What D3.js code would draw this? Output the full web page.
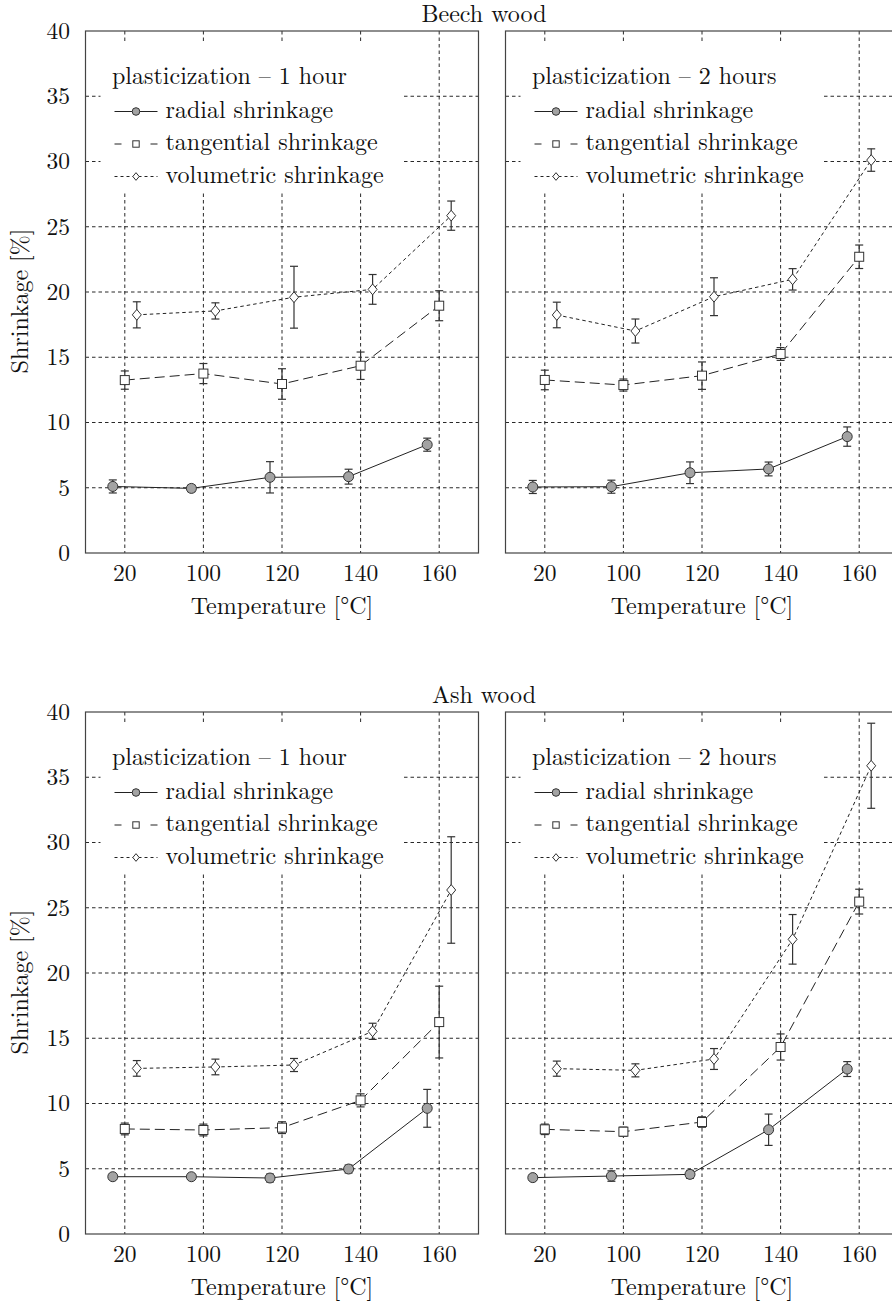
<!DOCTYPE html>
<html>
<head>
<meta charset="utf-8">
<script src="https://cdn.jsdelivr.net/npm/d3@7"></script>
<style>
  body { margin: 0; background: #fff; }
  svg { display: block; }
</style>
</head>
<body>
<div id="chart"></div>
<script>
const temps = ["20", "100", "120", "140", "160"];
const yTicks = [0, 5, 10, 15, 20, 25, 30, 35, 40];

// Beech wood, 1 hour
const beech1Radial = [5.1, 4.95, 5.8, 5.85, 8.3];
const beech1RadialErr = [0.5, 0.25, 1.2, 0.57, 0.5];
const beech1Tang = [13.25, 13.75, 12.95, 14.35, 18.95];
const beech1TangErr = [0.7, 0.77, 1.17, 1.05, 1.15];
const beech1Vol = [18.25, 18.55, 19.6, 20.2, 25.85];
const beech1VolErr = [1.0, 0.62, 2.37, 1.14, 1.12];

// Beech wood, 2 hours
const beech2Radial = [5.06, 5.08, 6.15, 6.44, 8.92];
const beech2RadialErr = [0.5, 0.5, 0.83, 0.53, 0.74];
const beech2Tang = [13.26, 12.87, 13.59, 15.25, 22.7];
const beech2TangErr = [0.75, 0.46, 1.05, 0.49, 0.9];
const beech2Vol = [18.24, 17.01, 19.64, 20.97, 30.11];
const beech2VolErr = [0.98, 0.92, 1.45, 0.82, 0.86];

// Ash wood, 1 hour
const ash1Radial = [4.39, 4.39, 4.29, 4.98, 9.63];
const ash1RadialErr = [0.2, 0.2, 0.3, 0.3, 1.45];
const ash1Tang = [8.05, 7.97, 8.15, 10.24, 16.24];
const ash1TangErr = [0.45, 0.45, 0.45, 0.5, 2.75];
const ash1Vol = [12.69, 12.8, 12.95, 15.53, 26.36];
const ash1VolErr = [0.6, 0.6, 0.5, 0.62, 4.08];

// Ash wood, 2 hours
const ash2Radial = [4.32, 4.44, 4.57, 7.99, 12.64];
const ash2RadialErr = [0.2, 0.4, 0.3, 1.2, 0.57];
const ash2Tang = [8.02, 7.84, 8.58, 14.33, 25.47];
const ash2TangErr = [0.4, 0.35, 0.4, 1.0, 0.95];
const ash2Vol = [12.67, 12.54, 13.41, 22.58, 35.88];
const ash2VolErr = [0.58, 0.5, 0.8, 1.9, 3.26];

const seriesNames = ["radial shrinkage", "tangential shrinkage", "volumetric shrinkage"];
const woodTitles = ["Beech wood", "Ash wood"];
const panelTitles = ["plasticization \u2013 1 hour", "plasticization \u2013 2 hours"];

const panels = [
  { row: 0, col: 0, series: [[beech1Radial, beech1RadialErr], [beech1Tang, beech1TangErr], [beech1Vol, beech1VolErr]] },
  { row: 0, col: 1, series: [[beech2Radial, beech2RadialErr], [beech2Tang, beech2TangErr], [beech2Vol, beech2VolErr]] },
  { row: 1, col: 0, series: [[ash1Radial, ash1RadialErr], [ash1Tang, ash1TangErr], [ash1Vol, ash1VolErr]] },
  { row: 1, col: 1, series: [[ash2Radial, ash2RadialErr], [ash2Tang, ash2TangErr], [ash2Vol, ash2VolErr]] }
];

const width = 892, height = 1304;
const font = '"Latin Modern Roman", "Liberation Serif", serif';
const panelLeft = [85.5, 505.5], panelW = 393;
const panelTop = [31, 712], panelH = 522;
const styles = [
  { dash: null, legendDash: null, offset: -12, symbol: "circle" },
  { dash: "10,5", legendDash: "7,29,7", offset: 0, symbol: "square" },
  { dash: "3.5,3", legendDash: "3,3", offset: 12, symbol: "diamond" }
];

const svg = d3.select("#chart").append("svg")
  .attr("width", width)
  .attr("height", height);

function label(g, size) {
  return g.append("text")
    .style("font-family", font)
    .style("font-size", size + "px")
    .attr("fill", "#111");
}

function marker(g, type, cx, cy, s) {
  if (type === "circle") {
    g.append("circle").attr("cx", cx).attr("cy", cy).attr("r", s)
      .attr("fill", "#a3a3a3").attr("stroke", "#333").attr("stroke-width", 1);
  } else if (type === "square") {
    g.append("rect").attr("x", cx - s).attr("y", cy - s).attr("width", 2 * s).attr("height", 2 * s)
      .attr("fill", "#fff").attr("stroke", "#333").attr("stroke-width", 1);
  } else {
    g.append("path")
      .attr("d", `M${cx},${cy - s * 1.2}L${cx + s},${cy}L${cx},${cy + s * 1.2}L${cx - s},${cy}Z`)
      .attr("fill", "#fff").attr("stroke", "#333").attr("stroke-width", 1);
  }
}

woodTitles.forEach((t, r) => {
  label(svg, 24)
    .attr("x", 484)
    .attr("y", panelTop[r] - 9)
    .attr("text-anchor", "middle")
    .text(t);

  label(svg, 24)
    .attr("transform", `translate(28,${panelTop[r] + 270}) rotate(-90)`)
    .attr("text-anchor", "middle")
    .text("Shrinkage [%]");
});

panels.forEach(p => {
  const left = panelLeft[p.col], top = panelTop[p.row];
  const x = d3.scalePoint().domain(temps).range([left, left + panelW]).padding(0.5);
  const y = d3.scaleLinear().domain([0, 40]).range([top + panelH, top]);
  const g = svg.append("g");

  // grid
  g.selectAll(".hgrid").data(yTicks.slice(1, -1)).enter().append("line")
    .attr("x1", left).attr("x2", left + panelW)
    .attr("y1", d => y(d)).attr("y2", d => y(d))
    .attr("stroke", "#111").attr("stroke-width", 0.9).attr("stroke-dasharray", "3.5,3");
  g.selectAll(".vgrid").data(temps).enter().append("line")
    .attr("x1", d => x(d)).attr("x2", d => x(d))
    .attr("y1", top).attr("y2", top + panelH)
    .attr("stroke", "#111").attr("stroke-width", 0.9).attr("stroke-dasharray", "3.5,3");

  // frame
  g.append("rect")
    .attr("x", left).attr("y", top).attr("width", panelW).attr("height", panelH)
    .attr("fill", "none").attr("stroke", "#444").attr("stroke-width", 1.2);

  // y tick labels (left panels)
  if (p.col === 0) {
    yTicks.forEach(d => {
      label(g, 23.5)
        .attr("x", 70).attr("y", y(d)).attr("dy", "0.33em")
        .attr("text-anchor", "end")
        .text(d);
    });
  }

  // x tick labels
  temps.forEach(d => {
    label(g, 23.5)
      .attr("x", x(d)).attr("y", top + panelH + 27.5)
      .attr("text-anchor", "middle")
      .text(d);
  });

  label(g, 24)
    .attr("x", x(temps[2])).attr("y", top + panelH + 60.5)
    .attr("text-anchor", "middle")
    .text("Temperature [\u00B0C]");

  // legend
  const lg = g.append("g").attr("transform", `translate(${left + 15},${top + 12})`);
  lg.append("rect").attr("width", 301).attr("height", 150).attr("fill", "#fff");
  label(lg, 24).attr("x", 11.5).attr("y", 40.5).text(panelTitles[p.col]);
  seriesNames.forEach((name, i) => {
    const cy = 68.5 + i * 32.5;
    lg.append("line").attr("x1", 14).attr("x2", 57).attr("y1", cy).attr("y2", cy)
      .attr("stroke", "#222").attr("stroke-width", 1)
      .attr("stroke-dasharray", styles[i].legendDash);
    marker(lg, styles[i].symbol, 35.5, cy, i === 0 ? 3.8 : 3.2);
    label(lg, 24).attr("x", 65).attr("y", cy + 6).text(name);
  });

  // series
  p.series.forEach(([vals, errs], i) => {
    const st = styles[i];
    const pts = temps.map((t, j) => ({ t, v: vals[j], e: errs[j] }));
    const px = d => x(d.t) + st.offset;
    const line = d3.line().x(px).y(d => y(d.v));
    g.append("path").datum(pts)
      .attr("d", line)
      .attr("fill", "none").attr("stroke", "#222").attr("stroke-width", 1)
      .attr("stroke-dasharray", st.dash);
    pts.forEach(d => {
      const cx = px(d);
      g.append("line").attr("x1", cx).attr("x2", cx)
        .attr("y1", y(d.v - d.e)).attr("y2", y(d.v + d.e))
        .attr("stroke", "#333").attr("stroke-width", 1.2);
      [d.v - d.e, d.v + d.e].forEach(v => {
        g.append("line").attr("x1", cx - 4).attr("x2", cx + 4)
          .attr("y1", y(v)).attr("y2", y(v))
          .attr("stroke", "#333").attr("stroke-width", 1.2);
      });
      marker(g, st.symbol, cx, y(d.v), i === 0 ? 5 : 4.5);
    });
  });
});
</script>
</body>
</html>
